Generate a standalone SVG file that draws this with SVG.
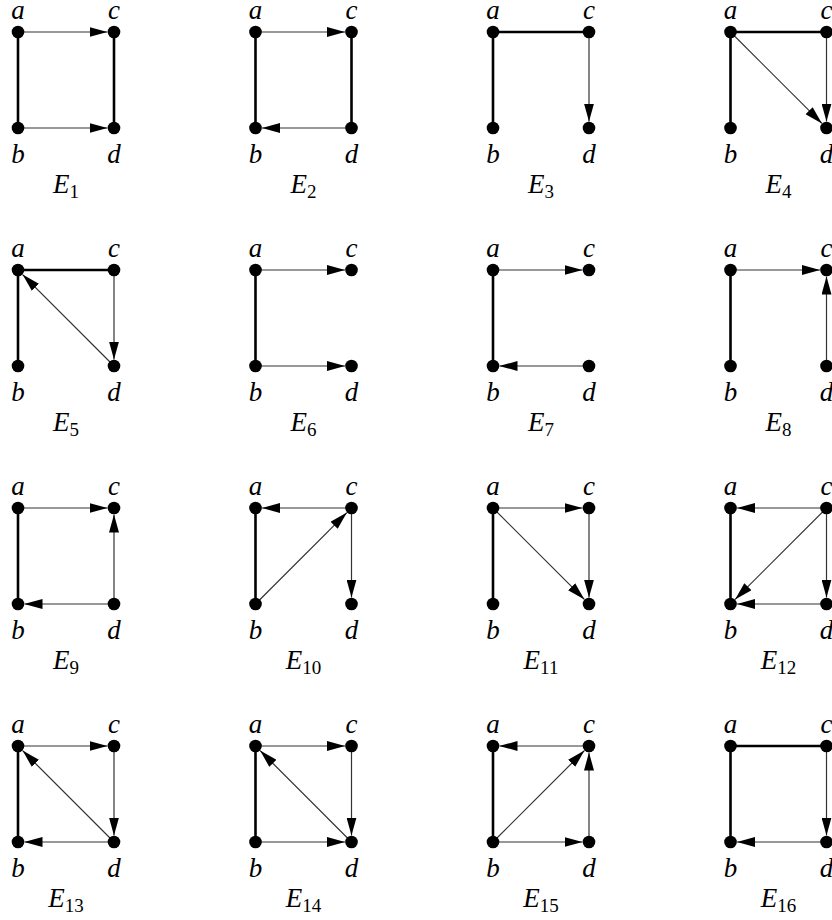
<svg xmlns="http://www.w3.org/2000/svg" width="832" height="920" viewBox="0 0 832 920">
<style>
.thick{stroke:#000;stroke-width:2.6;fill:none}
.arr{stroke:#333;stroke-width:1.2;fill:none;marker-end:url(#ah)}
.node circle{fill:#000}
.lbl{font-family:"Liberation Serif",serif;font-style:italic;font-size:27px;text-anchor:middle;fill:#000}
.title{font-family:"Liberation Serif",serif;font-size:27px;text-anchor:middle;fill:#000}
.it{font-style:italic}
.sub{font-size:19px}
</style>
<defs>
<marker id="ah" viewBox="0 0 18 10" refX="18" refY="5" markerWidth="18" markerHeight="10" markerUnits="userSpaceOnUse" orient="auto">
<path d="M0,0 L18,5 L0,10 Z" fill="#000"/>
</marker>
</defs>
<rect width="832" height="920" fill="#fff"/>

<g id="E1" transform="translate(18,32)">
<g class="connectors"><path class="thick" d="M0,0 L0,96"/><path class="thick" d="M96,0 L96,96"/><path class="arr" d="M0,0 L89.5,0"/><path class="arr" d="M0,96 L89.5,96"/></g>
<g id="E1-a" class="node"><circle r="6.3"/><text class="lbl" y="-13.5">a</text></g>
<g id="E1-c" class="node"><circle cx="96" r="6.3"/><text class="lbl" x="96" y="-13.5">c</text></g>
<g id="E1-b" class="node"><circle cy="96" r="6.3"/><text class="lbl" y="131">b</text></g>
<g id="E1-d" class="node"><circle cx="96" cy="96" r="6.3"/><text class="lbl" x="96" y="131">d</text></g>
<text class="title" x="48" y="161"><tspan class="it">E</tspan><tspan class="sub" dy="5">1</tspan></text>
</g>

<g id="E2" transform="translate(255.5,32)">
<g class="connectors"><path class="thick" d="M0,0 L0,96"/><path class="thick" d="M96,0 L96,96"/><path class="arr" d="M0,0 L89.5,0"/><path class="arr" d="M96,96 L6.5,96"/></g>
<g id="E2-a" class="node"><circle r="6.3"/><text class="lbl" y="-13.5">a</text></g>
<g id="E2-c" class="node"><circle cx="96" r="6.3"/><text class="lbl" x="96" y="-13.5">c</text></g>
<g id="E2-b" class="node"><circle cy="96" r="6.3"/><text class="lbl" y="131">b</text></g>
<g id="E2-d" class="node"><circle cx="96" cy="96" r="6.3"/><text class="lbl" x="96" y="131">d</text></g>
<text class="title" x="48" y="161"><tspan class="it">E</tspan><tspan class="sub" dy="5">2</tspan></text>
</g>

<g id="E3" transform="translate(493,32)">
<g class="connectors"><path class="thick" d="M0,96 L0,0 L96,0"/><path class="arr" d="M96,0 L96,89.5"/></g>
<g id="E3-a" class="node"><circle r="6.3"/><text class="lbl" y="-13.5">a</text></g>
<g id="E3-c" class="node"><circle cx="96" r="6.3"/><text class="lbl" x="96" y="-13.5">c</text></g>
<g id="E3-b" class="node"><circle cy="96" r="6.3"/><text class="lbl" y="131">b</text></g>
<g id="E3-d" class="node"><circle cx="96" cy="96" r="6.3"/><text class="lbl" x="96" y="131">d</text></g>
<text class="title" x="48" y="161"><tspan class="it">E</tspan><tspan class="sub" dy="5">3</tspan></text>
</g>

<g id="E4" transform="translate(730.5,32)">
<g class="connectors"><path class="thick" d="M0,96 L0,0 L96,0"/><path class="arr" d="M96,0 L96,89.5"/><path class="arr" d="M0,0 L91.4,91.4"/></g>
<g id="E4-a" class="node"><circle r="6.3"/><text class="lbl" y="-13.5">a</text></g>
<g id="E4-c" class="node"><circle cx="96" r="6.3"/><text class="lbl" x="96" y="-13.5">c</text></g>
<g id="E4-b" class="node"><circle cy="96" r="6.3"/><text class="lbl" y="131">b</text></g>
<g id="E4-d" class="node"><circle cx="96" cy="96" r="6.3"/><text class="lbl" x="96" y="131">d</text></g>
<text class="title" x="48" y="161"><tspan class="it">E</tspan><tspan class="sub" dy="5">4</tspan></text>
</g>

<g id="E5" transform="translate(18,270)">
<g class="connectors"><path class="thick" d="M0,96 L0,0 L96,0"/><path class="arr" d="M96,0 L96,89.5"/><path class="arr" d="M96,96 L4.6,4.6"/></g>
<g id="E5-a" class="node"><circle r="6.3"/><text class="lbl" y="-13.5">a</text></g>
<g id="E5-c" class="node"><circle cx="96" r="6.3"/><text class="lbl" x="96" y="-13.5">c</text></g>
<g id="E5-b" class="node"><circle cy="96" r="6.3"/><text class="lbl" y="131">b</text></g>
<g id="E5-d" class="node"><circle cx="96" cy="96" r="6.3"/><text class="lbl" x="96" y="131">d</text></g>
<text class="title" x="48" y="161"><tspan class="it">E</tspan><tspan class="sub" dy="5">5</tspan></text>
</g>

<g id="E6" transform="translate(255.5,270)">
<g class="connectors"><path class="thick" d="M0,0 L0,96"/><path class="arr" d="M0,0 L89.5,0"/><path class="arr" d="M0,96 L89.5,96"/></g>
<g id="E6-a" class="node"><circle r="6.3"/><text class="lbl" y="-13.5">a</text></g>
<g id="E6-c" class="node"><circle cx="96" r="6.3"/><text class="lbl" x="96" y="-13.5">c</text></g>
<g id="E6-b" class="node"><circle cy="96" r="6.3"/><text class="lbl" y="131">b</text></g>
<g id="E6-d" class="node"><circle cx="96" cy="96" r="6.3"/><text class="lbl" x="96" y="131">d</text></g>
<text class="title" x="48" y="161"><tspan class="it">E</tspan><tspan class="sub" dy="5">6</tspan></text>
</g>

<g id="E7" transform="translate(493,270)">
<g class="connectors"><path class="thick" d="M0,0 L0,96"/><path class="arr" d="M0,0 L89.5,0"/><path class="arr" d="M96,96 L6.5,96"/></g>
<g id="E7-a" class="node"><circle r="6.3"/><text class="lbl" y="-13.5">a</text></g>
<g id="E7-c" class="node"><circle cx="96" r="6.3"/><text class="lbl" x="96" y="-13.5">c</text></g>
<g id="E7-b" class="node"><circle cy="96" r="6.3"/><text class="lbl" y="131">b</text></g>
<g id="E7-d" class="node"><circle cx="96" cy="96" r="6.3"/><text class="lbl" x="96" y="131">d</text></g>
<text class="title" x="48" y="161"><tspan class="it">E</tspan><tspan class="sub" dy="5">7</tspan></text>
</g>

<g id="E8" transform="translate(730.5,270)">
<g class="connectors"><path class="thick" d="M0,0 L0,96"/><path class="arr" d="M0,0 L89.5,0"/><path class="arr" d="M96,96 L96,6.5"/></g>
<g id="E8-a" class="node"><circle r="6.3"/><text class="lbl" y="-13.5">a</text></g>
<g id="E8-c" class="node"><circle cx="96" r="6.3"/><text class="lbl" x="96" y="-13.5">c</text></g>
<g id="E8-b" class="node"><circle cy="96" r="6.3"/><text class="lbl" y="131">b</text></g>
<g id="E8-d" class="node"><circle cx="96" cy="96" r="6.3"/><text class="lbl" x="96" y="131">d</text></g>
<text class="title" x="48" y="161"><tspan class="it">E</tspan><tspan class="sub" dy="5">8</tspan></text>
</g>

<g id="E9" transform="translate(18,508)">
<g class="connectors"><path class="thick" d="M0,0 L0,96"/><path class="arr" d="M0,0 L89.5,0"/><path class="arr" d="M96,96 L96,6.5"/><path class="arr" d="M96,96 L6.5,96"/></g>
<g id="E9-a" class="node"><circle r="6.3"/><text class="lbl" y="-13.5">a</text></g>
<g id="E9-c" class="node"><circle cx="96" r="6.3"/><text class="lbl" x="96" y="-13.5">c</text></g>
<g id="E9-b" class="node"><circle cy="96" r="6.3"/><text class="lbl" y="131">b</text></g>
<g id="E9-d" class="node"><circle cx="96" cy="96" r="6.3"/><text class="lbl" x="96" y="131">d</text></g>
<text class="title" x="48" y="161"><tspan class="it">E</tspan><tspan class="sub" dy="5">9</tspan></text>
</g>

<g id="E10" transform="translate(255.5,508)">
<g class="connectors"><path class="thick" d="M0,0 L0,96"/><path class="arr" d="M96,0 L6.5,0"/><path class="arr" d="M0,96 L91.4,4.6"/><path class="arr" d="M96,0 L96,89.5"/></g>
<g id="E10-a" class="node"><circle r="6.3"/><text class="lbl" y="-13.5">a</text></g>
<g id="E10-c" class="node"><circle cx="96" r="6.3"/><text class="lbl" x="96" y="-13.5">c</text></g>
<g id="E10-b" class="node"><circle cy="96" r="6.3"/><text class="lbl" y="131">b</text></g>
<g id="E10-d" class="node"><circle cx="96" cy="96" r="6.3"/><text class="lbl" x="96" y="131">d</text></g>
<text class="title" x="48" y="161"><tspan class="it">E</tspan><tspan class="sub" dy="5">10</tspan></text>
</g>

<g id="E11" transform="translate(493,508)">
<g class="connectors"><path class="thick" d="M0,0 L0,96"/><path class="arr" d="M0,0 L89.5,0"/><path class="arr" d="M0,0 L91.4,91.4"/><path class="arr" d="M96,0 L96,89.5"/></g>
<g id="E11-a" class="node"><circle r="6.3"/><text class="lbl" y="-13.5">a</text></g>
<g id="E11-c" class="node"><circle cx="96" r="6.3"/><text class="lbl" x="96" y="-13.5">c</text></g>
<g id="E11-b" class="node"><circle cy="96" r="6.3"/><text class="lbl" y="131">b</text></g>
<g id="E11-d" class="node"><circle cx="96" cy="96" r="6.3"/><text class="lbl" x="96" y="131">d</text></g>
<text class="title" x="48" y="161"><tspan class="it">E</tspan><tspan class="sub" dy="5">11</tspan></text>
</g>

<g id="E12" transform="translate(730.5,508)">
<g class="connectors"><path class="thick" d="M0,0 L0,96"/><path class="arr" d="M96,0 L6.5,0"/><path class="arr" d="M96,0 L4.6,91.4"/><path class="arr" d="M96,0 L96,89.5"/><path class="arr" d="M96,96 L6.5,96"/></g>
<g id="E12-a" class="node"><circle r="6.3"/><text class="lbl" y="-13.5">a</text></g>
<g id="E12-c" class="node"><circle cx="96" r="6.3"/><text class="lbl" x="96" y="-13.5">c</text></g>
<g id="E12-b" class="node"><circle cy="96" r="6.3"/><text class="lbl" y="131">b</text></g>
<g id="E12-d" class="node"><circle cx="96" cy="96" r="6.3"/><text class="lbl" x="96" y="131">d</text></g>
<text class="title" x="48" y="161"><tspan class="it">E</tspan><tspan class="sub" dy="5">12</tspan></text>
</g>

<g id="E13" transform="translate(18,746)">
<g class="connectors"><path class="thick" d="M0,0 L0,96"/><path class="arr" d="M0,0 L89.5,0"/><path class="arr" d="M96,0 L96,89.5"/><path class="arr" d="M96,96 L4.6,4.6"/><path class="arr" d="M96,96 L6.5,96"/></g>
<g id="E13-a" class="node"><circle r="6.3"/><text class="lbl" y="-13.5">a</text></g>
<g id="E13-c" class="node"><circle cx="96" r="6.3"/><text class="lbl" x="96" y="-13.5">c</text></g>
<g id="E13-b" class="node"><circle cy="96" r="6.3"/><text class="lbl" y="131">b</text></g>
<g id="E13-d" class="node"><circle cx="96" cy="96" r="6.3"/><text class="lbl" x="96" y="131">d</text></g>
<text class="title" x="48" y="161"><tspan class="it">E</tspan><tspan class="sub" dy="5">13</tspan></text>
</g>

<g id="E14" transform="translate(255.5,746)">
<g class="connectors"><path class="thick" d="M0,0 L0,96"/><path class="arr" d="M0,0 L89.5,0"/><path class="arr" d="M96,0 L96,89.5"/><path class="arr" d="M96,96 L4.6,4.6"/><path class="arr" d="M0,96 L89.5,96"/></g>
<g id="E14-a" class="node"><circle r="6.3"/><text class="lbl" y="-13.5">a</text></g>
<g id="E14-c" class="node"><circle cx="96" r="6.3"/><text class="lbl" x="96" y="-13.5">c</text></g>
<g id="E14-b" class="node"><circle cy="96" r="6.3"/><text class="lbl" y="131">b</text></g>
<g id="E14-d" class="node"><circle cx="96" cy="96" r="6.3"/><text class="lbl" x="96" y="131">d</text></g>
<text class="title" x="48" y="161"><tspan class="it">E</tspan><tspan class="sub" dy="5">14</tspan></text>
</g>

<g id="E15" transform="translate(493,746)">
<g class="connectors"><path class="thick" d="M0,0 L0,96"/><path class="arr" d="M96,0 L6.5,0"/><path class="arr" d="M0,96 L91.4,4.6"/><path class="arr" d="M96,96 L96,6.5"/><path class="arr" d="M0,96 L89.5,96"/></g>
<g id="E15-a" class="node"><circle r="6.3"/><text class="lbl" y="-13.5">a</text></g>
<g id="E15-c" class="node"><circle cx="96" r="6.3"/><text class="lbl" x="96" y="-13.5">c</text></g>
<g id="E15-b" class="node"><circle cy="96" r="6.3"/><text class="lbl" y="131">b</text></g>
<g id="E15-d" class="node"><circle cx="96" cy="96" r="6.3"/><text class="lbl" x="96" y="131">d</text></g>
<text class="title" x="48" y="161"><tspan class="it">E</tspan><tspan class="sub" dy="5">15</tspan></text>
</g>

<g id="E16" transform="translate(730.5,746)">
<g class="connectors"><path class="thick" d="M0,96 L0,0 L96,0"/><path class="arr" d="M96,0 L96,89.5"/><path class="arr" d="M96,96 L6.5,96"/></g>
<g id="E16-a" class="node"><circle r="6.3"/><text class="lbl" y="-13.5">a</text></g>
<g id="E16-c" class="node"><circle cx="96" r="6.3"/><text class="lbl" x="96" y="-13.5">c</text></g>
<g id="E16-b" class="node"><circle cy="96" r="6.3"/><text class="lbl" y="131">b</text></g>
<g id="E16-d" class="node"><circle cx="96" cy="96" r="6.3"/><text class="lbl" x="96" y="131">d</text></g>
<text class="title" x="48" y="161"><tspan class="it">E</tspan><tspan class="sub" dy="5">16</tspan></text>
</g>
</svg>
